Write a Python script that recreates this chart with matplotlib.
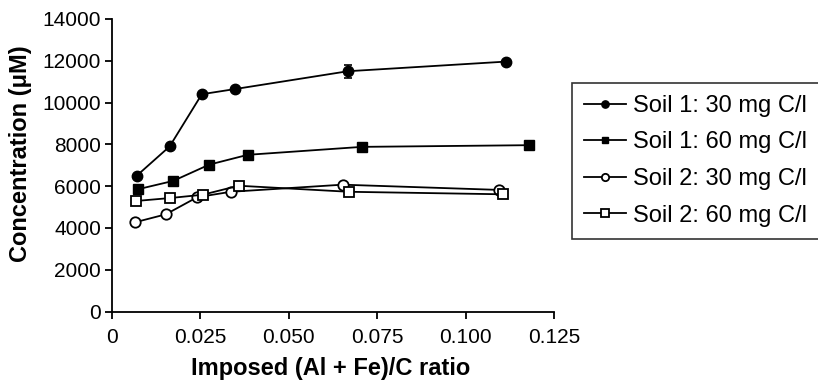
import matplotlib
matplotlib.use("Agg")
import matplotlib.pyplot as plt

plt.rcParams['font.family'] = ['Liberation Sans', 'DejaVu Sans']

s1_30_x = [0.0070, 0.0163, 0.0254, 0.0349, 0.0667, 0.1113]
s1_30_y = [6500, 7900, 10400, 10650, 11500, 11960]
s1_30_err = [0, 0, 0, 0, 320, 0]

s1_60_x = [0.0073, 0.0173, 0.0275, 0.0384, 0.0707, 0.1178]
s1_60_y = [5850, 6250, 7030, 7500, 7880, 7960]

s2_30_x = [0.0065, 0.0152, 0.0241, 0.0336, 0.0652, 0.1094]
s2_30_y = [4270, 4650, 5470, 5730, 6070, 5820]

s2_60_x = [0.0068, 0.0164, 0.0257, 0.0358, 0.0670, 0.1105]
s2_60_y = [5290, 5430, 5590, 6020, 5730, 5610]

labels = ["Soil 1: 30 mg C/l", "Soil 1: 60 mg C/l", "Soil 2: 30 mg C/l", "Soil 2: 60 mg C/l"]
xticks = [0, 0.025, 0.050, 0.075, 0.100, 0.125]
xtick_labels = ["0", "0.025", "0.050", "0.075", "0.100", "0.125"]
yticks = [0, 2000, 4000, 6000, 8000, 10000, 12000, 14000]

fig = plt.figure(figsize=(8.18, 3.83), dpi=100)
ax = fig.add_axes([112/818, 1-311.5/383, 442/818, 292.5/383])

lw = 1.3
ax.errorbar(s1_30_x, s1_30_y, yerr=s1_30_err, fmt='none', ecolor='black',
            capsize=3, elinewidth=1.2, capthick=1.2)
ax.plot(s1_30_x, s1_30_y, color='black', marker='o', ms=7.5, lw=lw, label=labels[0])
ax.plot(s1_60_x, s1_60_y, color='black', marker='s', ms=7, lw=lw, label=labels[1])
ax.plot(s2_30_x, s2_30_y, color='black', marker='o', ms=7.5, mfc='white', mew=1.3, lw=lw, label=labels[2])
ax.plot(s2_60_x, s2_60_y, color='black', marker='s', ms=7.5, mfc='white', mew=1.3, lw=lw, label=labels[3])

ax.set_xlim(0, 0.125)
ax.set_ylim(0, 14000)
ax.set_xticks(xticks)
ax.set_xticklabels(xtick_labels)
ax.set_yticks(yticks)
ax.spines['top'].set_visible(False)
ax.spines['right'].set_visible(False)
for sp in ('left', 'bottom'):
    ax.spines[sp].set_linewidth(1.3)
ax.tick_params(direction='out', length=5, width=1.3, labelsize=15)
ax.tick_params(axis='x', pad=7)
ax.tick_params(axis='y', pad=3)

ax.set_xlabel("Imposed (Al + Fe)/C ratio", fontsize=17, fontweight='bold')
ax.xaxis.set_label_coords(0.495, -0.155)
ax.set_ylabel("Concentration (μM)", fontsize=17, fontweight='bold')
ax.yaxis.set_label_coords(-0.18, 0.538)

handles, lbls = ax.get_legend_handles_labels()
leg = fig.legend(handles, lbls, loc='upper left', bbox_to_anchor=(572/818, 1-83/383),
                 fontsize=17, frameon=True, fancybox=False, edgecolor='black',
                 handlelength=1.8, handletextpad=0.3, labelspacing=0.62,
                 borderpad=0.5, borderaxespad=0, markerscale=0.7)
leg.get_frame().set_linewidth(1.2)

fig.savefig("out.png", dpi=100)
